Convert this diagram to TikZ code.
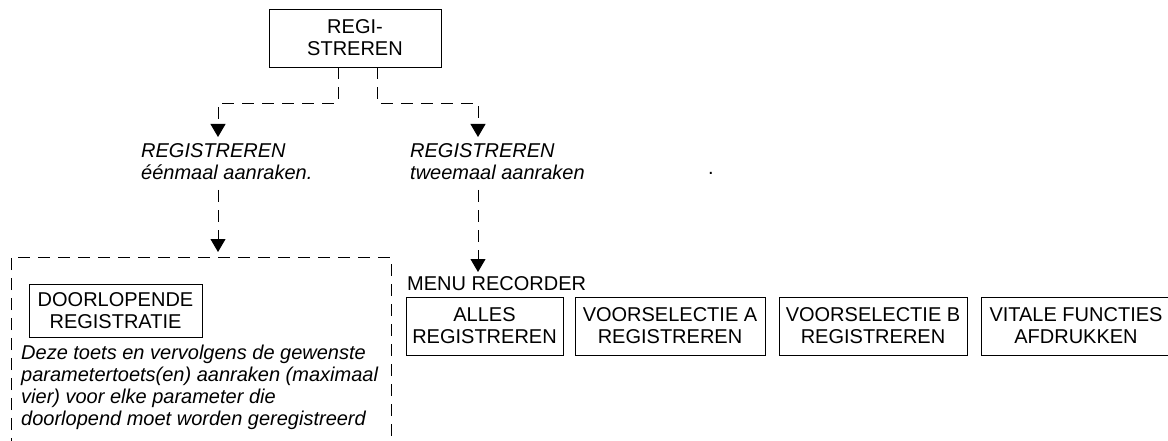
\documentclass[tikz,border=0pt]{standalone}
\usepackage{fontspec}
\setmainfont{Liberation Sans}
\usetikzlibrary{arrows.meta}
\begin{document}
\begin{tikzpicture}[x=1pt,y=-1pt,
  keybox/.style={draw, line width=0.9pt, align=center, inner sep=0pt,
    font=\fontsize{20}{22}\selectfont},
  lbl/.style={inner sep=0pt, anchor=base west, align=left,
    font=\fontsize{20}{22}\selectfont\itshape},
  plain/.style={inner sep=0pt, anchor=base west,
    font=\fontsize{20}{22}\selectfont},
  link/.style={line width=0.9pt, dash pattern=on 12pt off 8pt},
  tip/.style={-{Triangle[width=15pt,length=13pt]}}
]
\useasboundingbox (0,0) rectangle (1168,441);

% top key
\node[keybox, minimum width=172pt, minimum height=58pt] (reg) at (355,38) {REGI-\\STREREN};

% the two ways of touching the key (anchored on the last baseline)
\node[lbl] (once) at (141,179) {REGISTREREN\\éénmaal aanraken.};
\node[lbl] (twice) at (410,179) {REGISTREREN\\tweemaal aanraken};
\node[plain] (dot) at (708,175) {.};

\coordinate (onceIn) at (218,137);
\coordinate (twiceIn) at (478,137);
\draw[link,tip] ([xshift=-17pt]reg.south) |- (218,103) -- (onceIn);
\draw[link,tip] ([xshift=22pt]reg.south) |- (478,103) -- (twiceIn);

% continuous recording panel
\coordinate (frameBL) at (11,450);
\coordinate (frameTL) at (11,257);
\coordinate (frameTR) at (391,257);
\coordinate (frameBR) at (391,450);
\draw[link] (frameBL) -- (frameTL) -- (frameTR) -- (frameBR);

\coordinate (onceOut) at (218,190);
\coordinate (frameIn) at (218,252);
\draw[link,tip] (onceOut) -- (frameIn);

\node[keybox, minimum width=173pt, minimum height=53pt] (cont) at (115.5,310.5) {DOORLOPENDE\\REGISTRATIE};
\node[lbl, font=\fontsize{20}{21.7}\selectfont\itshape] (desc) at (21,425)
  {Deze toets en vervolgens de gewenste\\
   parametertoets(en) aanraken (maximaal\\
   vier) voor elke parameter die\\
   doorlopend moet worden geregistreerd};

% recorder menu
\coordinate (twiceOut) at (478,190);
\coordinate (menuIn) at (478,272);
\draw[link,tip] (twiceOut) -- (menuIn);

\node[plain] (menu) at (407,290) {MENU RECORDER};

\node[keybox, minimum width=157pt, minimum height=58pt] (all) at (484.5,326) {ALLES\\REGISTREREN};
\node[keybox, minimum width=190pt, minimum height=58pt] (presA) at (670,326) {VOORSELECTIE A\\REGISTREREN};
\node[keybox, minimum width=188pt, minimum height=58pt] (presB) at (873,326) {VOORSELECTIE B\\REGISTREREN};
\node[keybox, minimum width=190pt, minimum height=58pt] (vital) at (1076,326) {VITALE FUNCTIES\\AFDRUKKEN};
\end{tikzpicture}
\end{document}
